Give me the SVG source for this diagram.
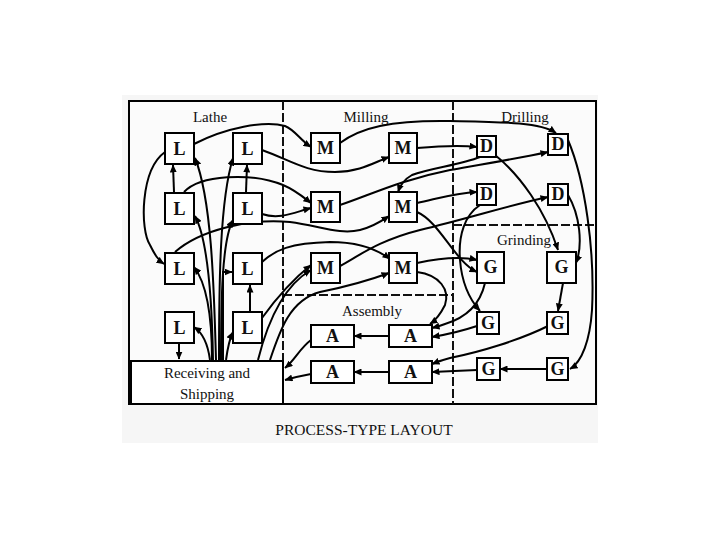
<svg xmlns="http://www.w3.org/2000/svg" width="720" height="540" viewBox="0 0 720 540">
<style>
.box{fill:#ffffff;stroke:#000;stroke-width:2}
.lt{font-family:"Liberation Serif","Times New Roman",serif;font-size:18px;font-weight:bold;text-anchor:middle;fill:#111}
.lab{font-family:"Liberation Serif","Times New Roman",serif;font-size:15px;text-anchor:middle;fill:#111}
.dash{fill:none;stroke:#111;stroke-width:2;stroke-dasharray:9 3}
.c{fill:none;stroke:#000;stroke-width:2;marker-end:url(#ah)}
</style>
<defs>
<marker id="ah" markerWidth="8" markerHeight="7" refX="7.5" refY="3.5" orient="auto" markerUnits="userSpaceOnUse">
<path d="M0,0 L8,3.5 L0,7 z" fill="#000"/>
</marker>
</defs>
<rect x="0" y="0" width="720" height="540" fill="#ffffff"/>
<rect x="122" y="95" width="476" height="348" fill="#f6f6f6"/>
<g id="frame">
<rect x="129" y="101" width="467" height="303" fill="#fbfbfb" stroke="#000" stroke-width="2"/>
<line class="dash" x1="283" y1="101" x2="283" y2="404"/>
<line class="dash" x1="453" y1="101" x2="453" y2="404"/>
<line class="dash" x1="453" y1="225" x2="596" y2="225"/>
<line class="dash" x1="283" y1="295" x2="453" y2="295"/>
</g>
<g id="labels">
<text class="lab" x="210" y="122">Lathe</text>
<text class="lab" x="366" y="122">Milling</text>
<text class="lab" x="525" y="122">Drilling</text>
<text class="lab" x="524" y="245">Grinding</text>
<text class="lab" x="372" y="316">Assembly</text>
<text class="lab" x="364" y="435" style="font-size:15.5px">PROCESS-TYPE LAYOUT</text>
</g>
<g id="connectors">
<path class="c" d="M174 192 L173 165"/>
<path class="c" d="M246 192 L247 165"/>
<path class="c" d="M250 312 L250 285"/>
<path class="c" d="M179 343 L179 359"/>
<path class="c" d="M165 152 C140 170 140 230 150 245 C155 255 158 260 164 264"/>
<path class="c" d="M216 360 C214 290 212 200 195 158"/>
<path class="c" d="M213 360 C212 300 208 240 195 216"/>
<path class="c" d="M212 360 C212 320 208 285 194 267"/>
<path class="c" d="M210 360 C208 345 203 333 194 327"/>
<path class="c" d="M219 360 C219 280 220 200 233 158"/>
<path class="c" d="M221 360 C221 300 222 240 233 220"/>
<path class="c" d="M223 360 L223 272 L232 272"/>
<path class="c" d="M226 360 C228 345 230 338 233 332"/>
<path class="c" d="M258 360 C268 320 285 285 311 270"/>
<path class="c" d="M270 360 C280 330 290 300 320 292 C350 286 370 280 389 273"/>
<path class="c" d="M194 144 C225 128 265 120 285 126 C295 130 300 140 311 147"/>
<path class="c" d="M262 150 C290 160 305 172 335 172 C360 172 375 162 389 157"/>
<path class="c" d="M184 192 C200 175 250 172 283 185 C295 190 302 196 311 203"/>
<path class="c" d="M262 214 C280 220 295 212 311 208"/>
<path class="c" d="M175 252 C200 230 250 218 290 222 C320 226 340 235 360 230 C375 226 383 220 389 216"/>
<path class="c" d="M262 262 C275 250 290 243 330 242 C360 242 378 250 390 259"/>
<path class="c" d="M262 318 C275 300 292 280 311 265"/>
<path class="c" d="M340 143 C360 128 390 120 450 121 C500 122 540 122 556 133"/>
<path class="c" d="M417 148 C440 146 460 145 477 147"/>
<path class="c" d="M340 205 C370 195 400 180 450 170 C490 163 520 158 548 152"/>
<path class="c" d="M480 157 C460 165 430 168 412 175 C403 180 400 186 398 192"/>
<path class="c" d="M417 203 C440 198 455 193 477 192"/>
<path class="c" d="M340 266 C360 255 380 240 420 230 C470 218 510 205 548 197"/>
<path class="c" d="M417 263 C440 258 460 256 477 260"/>
<path class="c" d="M417 212 C440 222 455 262 477 272"/>
<path class="c" d="M417 272 C440 275 450 290 445 305 C440 315 436 320 430 324"/>
<path class="c" d="M495 155 C520 175 545 210 558 250"/>
<path class="c" d="M568 140 C585 180 595 250 592 310 C590 340 582 362 570 369"/>
<path class="c" d="M568 195 C580 215 583 245 576 263"/>
<path class="c" d="M480 205 C465 215 458 235 460 260 C462 285 470 300 480 311"/>
<path class="c" d="M485 283 C480 305 465 318 445 324 C440 326 436 327 432 328"/>
<path class="c" d="M477 326 C465 330 450 334 432 337"/>
<path class="c" d="M563 283 L558 311"/>
<path class="c" d="M548 326 C520 340 480 352 450 358 C442 360 437 362 432 364"/>
<path class="c" d="M547 369 L500 369"/>
<path class="c" d="M477 370 L432 372"/>
<path class="c" d="M389 336 L354 336"/>
<path class="c" d="M389 372 L354 372"/>
<path class="c" d="M311 340 C300 348 295 360 285 368"/>
<path class="c" d="M311 374 C300 376 292 378 285 380"/>
</g>
<g id="receiving"><rect class="box" x="131" y="361" width="152" height="43"/><text class="lab" x="207" y="378">Receiving and</text><text class="lab" x="207" y="399">Shipping</text></g>
<g id="L1"><rect class="box" x="165" y="133" width="29" height="31"/><text class="lt" x="179.5" y="155">L</text></g>
<g id="L2"><rect class="box" x="233" y="133" width="29" height="31"/><text class="lt" x="247.5" y="155">L</text></g>
<g id="L3"><rect class="box" x="165" y="193" width="29" height="31"/><text class="lt" x="179.5" y="215">L</text></g>
<g id="L4"><rect class="box" x="233" y="193" width="29" height="31"/><text class="lt" x="247.5" y="215">L</text></g>
<g id="L5"><rect class="box" x="165" y="253" width="29" height="31"/><text class="lt" x="179.5" y="275">L</text></g>
<g id="L6"><rect class="box" x="233" y="253" width="29" height="31"/><text class="lt" x="247.5" y="275">L</text></g>
<g id="L7"><rect class="box" x="165" y="312" width="29" height="31"/><text class="lt" x="179.5" y="334">L</text></g>
<g id="L8"><rect class="box" x="233" y="312" width="29" height="31"/><text class="lt" x="247.5" y="334">L</text></g>
<g id="M1"><rect class="box" x="311" y="133" width="29" height="30"/><text class="lt" x="325.5" y="154">M</text></g>
<g id="M2"><rect class="box" x="389" y="133" width="28" height="30"/><text class="lt" x="403" y="154">M</text></g>
<g id="M3"><rect class="box" x="311" y="192" width="29" height="30"/><text class="lt" x="325.5" y="213">M</text></g>
<g id="M4"><rect class="box" x="389" y="192" width="28" height="30"/><text class="lt" x="403" y="213">M</text></g>
<g id="M5"><rect class="box" x="311" y="253" width="29" height="30"/><text class="lt" x="325.5" y="274">M</text></g>
<g id="M6"><rect class="box" x="389" y="253" width="28" height="30"/><text class="lt" x="403" y="274">M</text></g>
<g id="D1"><rect class="box" x="477" y="136" width="19" height="21"/><text class="lt" x="486.5" y="152">D</text></g>
<g id="D2"><rect class="box" x="548" y="134" width="20" height="21"/><text class="lt" x="558" y="150">D</text></g>
<g id="D3"><rect class="box" x="477" y="184" width="19" height="21"/><text class="lt" x="486.5" y="200">D</text></g>
<g id="D4"><rect class="box" x="548" y="184" width="20" height="21"/><text class="lt" x="558" y="200">D</text></g>
<g id="G1"><rect class="box" x="477" y="252" width="27" height="31"/><text class="lt" x="490.5" y="273">G</text></g>
<g id="G2"><rect class="box" x="547" y="252" width="29" height="31"/><text class="lt" x="561.5" y="273">G</text></g>
<g id="G3"><rect class="box" x="477" y="312" width="22" height="22"/><text class="lt" x="488" y="329">G</text></g>
<g id="G4"><rect class="box" x="547" y="312" width="21" height="22"/><text class="lt" x="557.5" y="329">G</text></g>
<g id="G5"><rect class="box" x="477" y="358" width="23" height="22"/><text class="lt" x="488.5" y="375">G</text></g>
<g id="G6"><rect class="box" x="547" y="358" width="21" height="22"/><text class="lt" x="557.5" y="375">G</text></g>
<g id="A1"><rect class="box" x="311" y="325" width="43" height="22"/><text class="lt" x="332.5" y="342">A</text></g>
<g id="A2"><rect class="box" x="389" y="325" width="43" height="22"/><text class="lt" x="410.5" y="342">A</text></g>
<g id="A3"><rect class="box" x="311" y="361" width="43" height="22"/><text class="lt" x="332.5" y="378">A</text></g>
<g id="A4"><rect class="box" x="389" y="361" width="43" height="22"/><text class="lt" x="410.5" y="378">A</text></g>
</svg>
